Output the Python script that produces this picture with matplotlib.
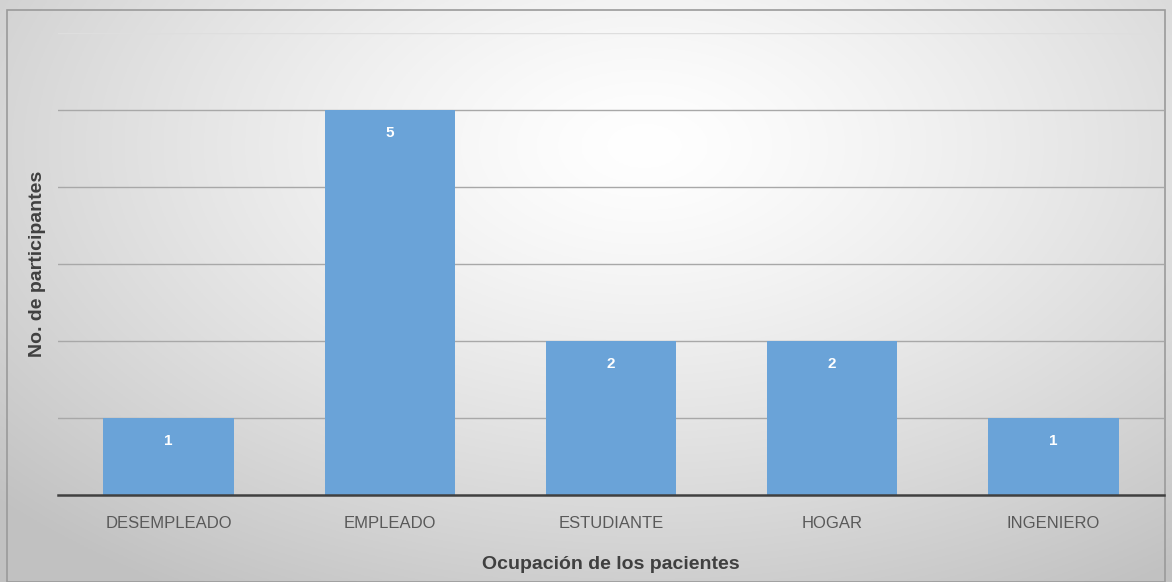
import numpy as np
import matplotlib.pyplot as plt
from matplotlib.patches import Rectangle

ocupaciones = ['DESEMPLEADO', 'EMPLEADO', 'ESTUDIANTE', 'HOGAR', 'INGENIERO']
participantes = [1, 5, 2, 2, 1]

plt.rcParams['font.family'] = ['Liberation Sans', 'DejaVu Sans']

fig = plt.figure(figsize=(11.72, 5.82), dpi=100)

# fondo con degradado radial
bg = fig.add_axes([0, 0, 1, 1], zorder=0)
yy, xx = np.mgrid[0:1:300j, 0:1:600j]
r = np.sqrt(((xx - 0.55) / 0.75) ** 2 + ((yy - 0.75) / 0.9) ** 2)
r = np.clip(r, 0, 1)
light = 1.0 - 0.24 * r ** 1.3
img = np.dstack([light, light, light])
bg.imshow(img, extent=[0, 1, 0, 1], origin='lower', aspect='auto')
bg.add_patch(Rectangle((7 / 1172, 0), 1158 / 1172, 1 - 10 / 582, fill=False,
                       edgecolor='#9a9a9a', linewidth=1.2))
bg.set_xlim(0, 1)
bg.set_ylim(0, 1)
bg.axis('off')

ax = fig.add_axes([58 / 1172, 1 - 495 / 582, 1106 / 1172, 462 / 582], zorder=1)
ax.patch.set_alpha(0)

x = np.arange(len(ocupaciones))
bars = ax.bar(x, participantes, width=0.59, color='#6aa3d8', zorder=3)
for b, v in zip(bars, participantes):
    ax.text(b.get_x() + b.get_width() / 2, v - 0.3, str(v), ha='center', va='center',
            color='white', fontsize=11, fontweight='bold', zorder=4)

ax.set_xlim(-0.5, len(ocupaciones) - 0.5)
ax.set_ylim(0, 6)
ax.set_yticks(range(1, 7))
ax.yaxis.grid(True, color='#a8a8a8', linewidth=1.0, zorder=0)
# la linea superior es mas tenue
ax.get_ygridlines()[-1].set_color('#dedede')
ax.tick_params(axis='y', left=False, labelleft=False)
ax.set_xticks(x)
ax.set_xticklabels(ocupaciones, fontsize=12, color='#595959')
ax.tick_params(axis='x', length=0, pad=15)
for s in ['top', 'right', 'left']:
    ax.spines[s].set_visible(False)
ax.spines['bottom'].set_color('#404040')
ax.spines['bottom'].set_linewidth(1.8)
ax.spines['bottom'].set_zorder(5)

ax.set_xlabel('Ocupación de los pacientes', fontsize=14, fontweight='bold',
              color='#404040', labelpad=18)
ax.set_ylabel('No. de participantes', fontsize=14, fontweight='bold',
              color='#404040')
ax.yaxis.set_label_coords(-12 / 1106, 0.5)

fig.savefig('out.png', dpi=100)
